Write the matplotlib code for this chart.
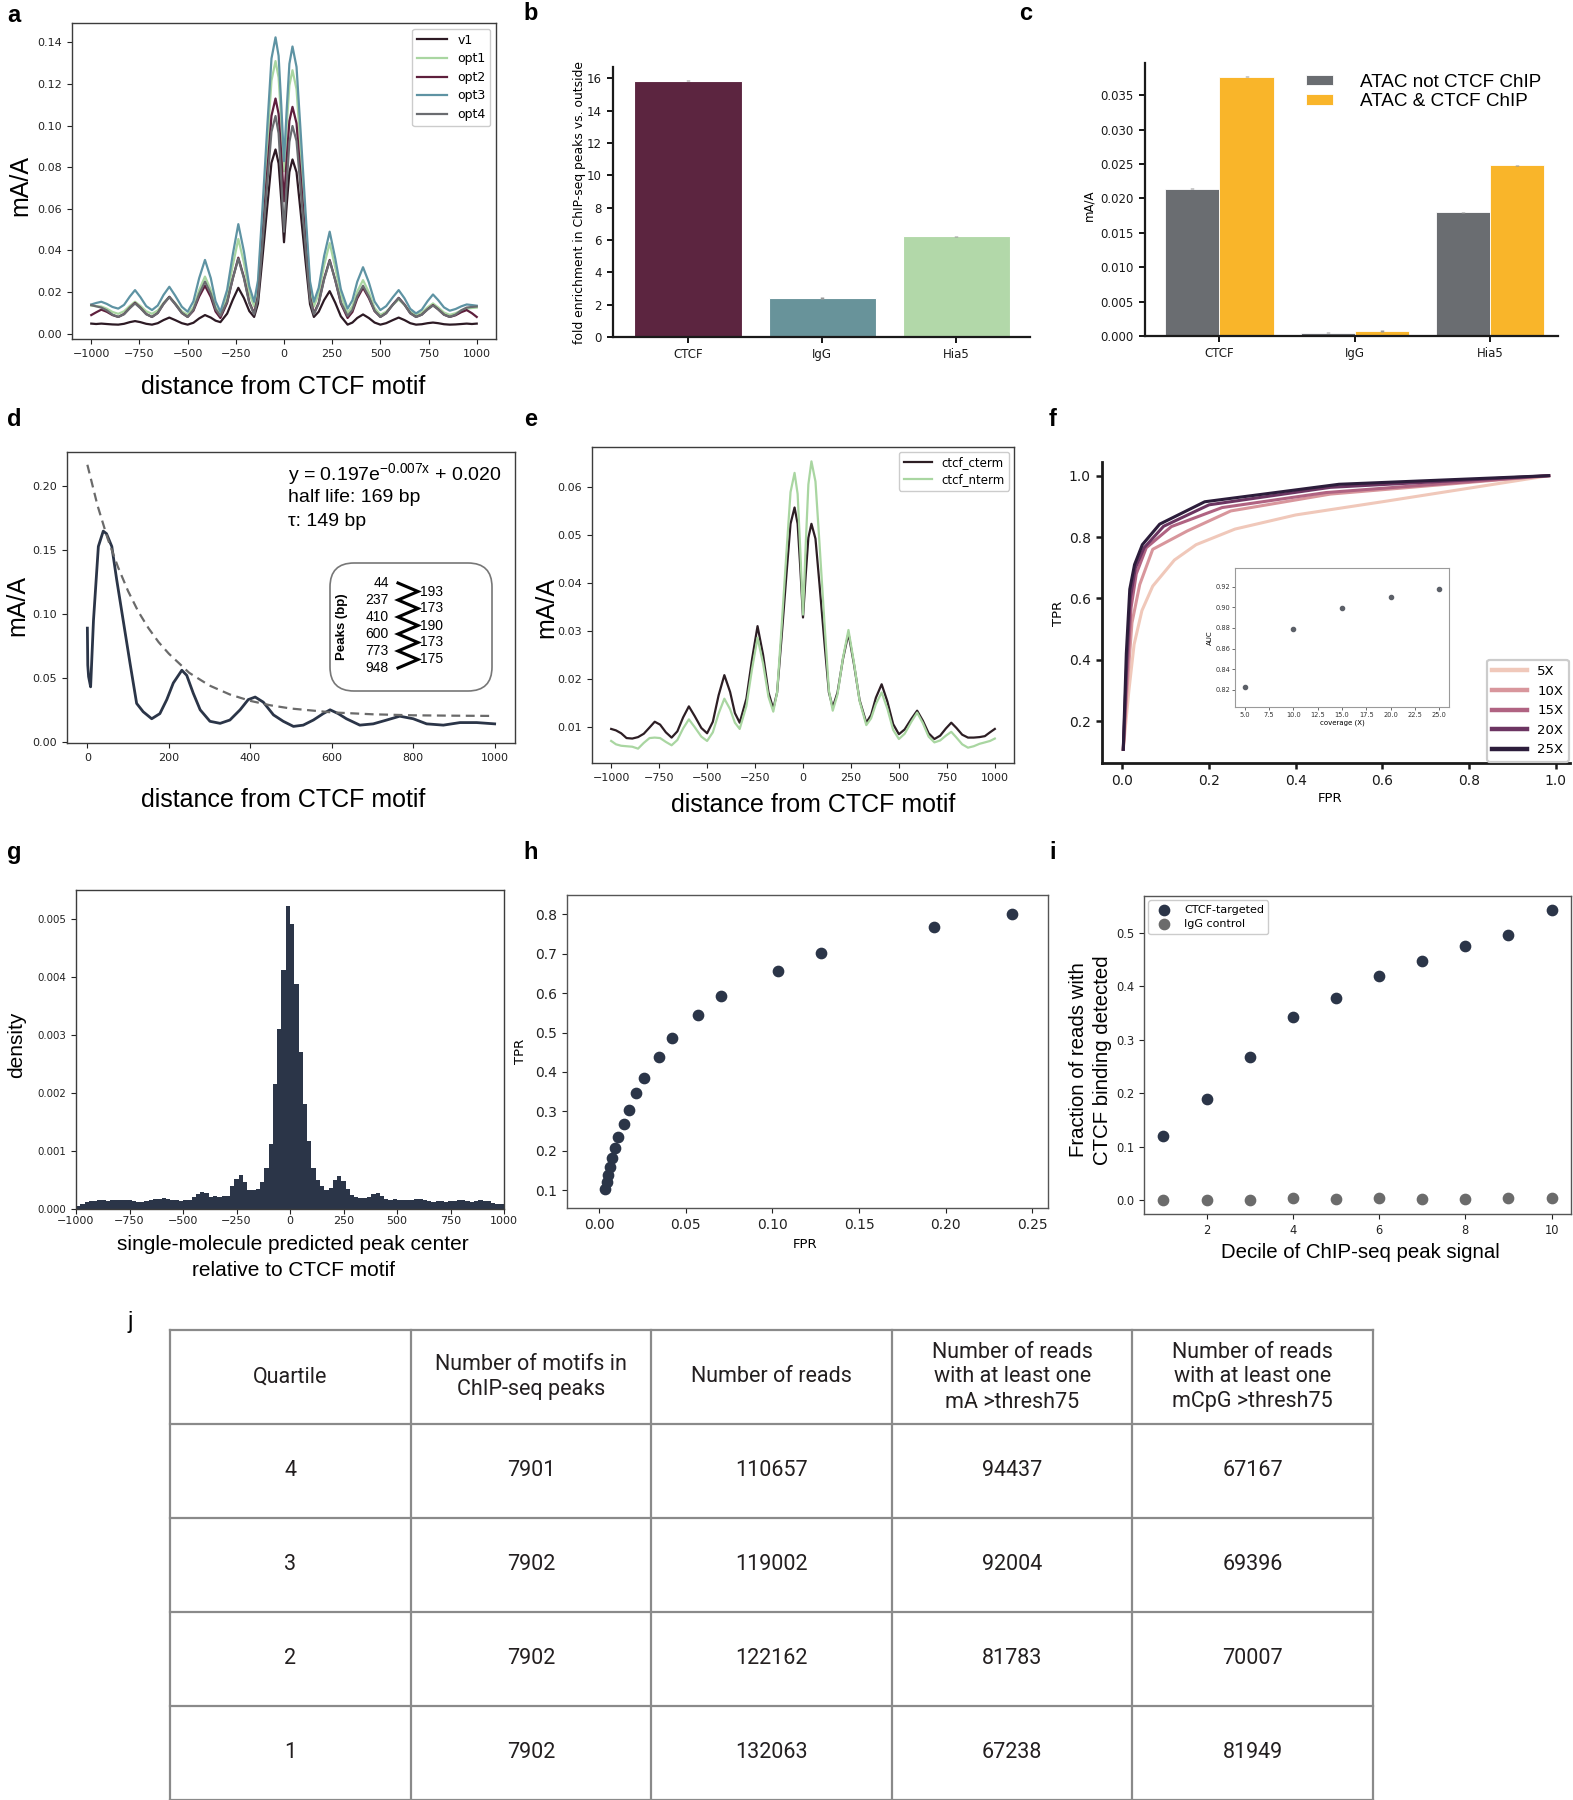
import numpy as np
import matplotlib
matplotlib.use('Agg')
import matplotlib.pyplot as plt
from matplotlib.patches import FancyBboxPatch

# ---------------- data ----------------
# panel a / e : shared distance grid (bp)
dist_grid = [-1000, -975, -948, -920, -890, -860, -830, -800, -773, -745, -715, -685, -655, -625, -595,
             -565, -530, -500, -470, -440, -410, -380, -355, -330, -295, -266, -237, -208, -180, -155,
             -135, -112, -86, -65, -44, -28, -14, 0,
             14, 28, 44, 65, 86, 112, 135, 155, 180, 208, 237, 266, 295, 330, 355, 380, 410, 440, 470,
             500, 530, 565, 595, 625, 655, 685, 715, 745, 773, 800, 830, 860, 890, 920, 948, 975, 1000]

a_v1 = [0.0048, 0.0046, 0.0048, 0.0046, 0.0044, 0.0043, 0.0047, 0.0055, 0.006, 0.0055, 0.0047, 0.0043,
        0.005, 0.0065, 0.0077, 0.0065, 0.005, 0.0043, 0.0052, 0.0073, 0.0089, 0.0077, 0.0062, 0.0055,
        0.0096, 0.0162, 0.022, 0.0171, 0.0108, 0.008, 0.0144, 0.0362, 0.0619, 0.0821, 0.0885, 0.0818,
        0.0640,
        0.0439,
        0.0618, 0.0777, 0.0837, 0.0776, 0.0587, 0.0345, 0.0141, 0.008, 0.0105, 0.0161, 0.0204, 0.0148,
        0.0083, 0.0043, 0.0053, 0.0075, 0.0092, 0.0075, 0.0053, 0.0043, 0.005, 0.0065, 0.0077, 0.0065,
        0.005, 0.0043, 0.0045, 0.005, 0.0053, 0.005, 0.0045, 0.0043, 0.0044, 0.0046, 0.0048, 0.0046,
        0.0048]
a_opt1 = [0.0134, 0.0132, 0.013, 0.0120, 0.0104, 0.0095, 0.0107, 0.0133, 0.0153, 0.0133, 0.0107, 0.0095,
          0.0111, 0.0148, 0.0177, 0.0147, 0.0107, 0.009, 0.0127, 0.0210, 0.0274, 0.0210, 0.0127, 0.009,
          0.0181, 0.0327, 0.0455, 0.0341, 0.0195, 0.013, 0.0224, 0.0543, 0.0921, 0.1216, 0.131, 0.1231,
          0.1019,
          0.078,
          0.0999, 0.1193, 0.1266, 0.1175, 0.0891, 0.0528, 0.0221, 0.013, 0.0191, 0.0328, 0.0435, 0.0318,
          0.0184, 0.010, 0.0131, 0.0202, 0.0257, 0.0199, 0.0123, 0.009, 0.0105, 0.0138, 0.0164, 0.0138,
          0.0105, 0.009, 0.0101, 0.0126, 0.0145, 0.0126, 0.0101, 0.009, 0.0098, 0.0111, 0.012, 0.0123,
          0.0125]
a_opt2 = [0.0089, 0.0102, 0.0115, 0.0105, 0.0089, 0.008, 0.0094, 0.0124, 0.0148, 0.0124, 0.0094, 0.008,
          0.0099, 0.0143, 0.0177, 0.0143, 0.0099, 0.008, 0.011, 0.0178, 0.023, 0.0176, 0.0106, 0.0075,
          0.0148, 0.0264, 0.0365, 0.0271, 0.0151, 0.0097, 0.0180, 0.0459, 0.0789, 0.1047, 0.113, 0.1056,
          0.0858,
          0.0636,
          0.0840, 0.1022, 0.109, 0.1011, 0.0762, 0.0445, 0.0176, 0.0097, 0.0148, 0.0264, 0.0354, 0.0256,
          0.0145, 0.0075, 0.0104, 0.0169, 0.022, 0.0171, 0.0108, 0.008, 0.0098, 0.0140, 0.0172, 0.0140,
          0.0098, 0.008, 0.0091, 0.0117, 0.0137, 0.0117, 0.0091, 0.008, 0.0088, 0.0103, 0.0113, 0.0098,
          0.008]
a_opt3 = [0.014, 0.0147, 0.0153, 0.0143, 0.0128, 0.012, 0.0138, 0.0178, 0.0209, 0.0175, 0.0132, 0.0113,
          0.0135, 0.0186, 0.0225, 0.0183, 0.0129, 0.0105, 0.0155, 0.0267, 0.0354, 0.0267, 0.0155, 0.0105,
          0.0210, 0.0379, 0.0526, 0.0395, 0.0228, 0.0153, 0.0255, 0.0598, 0.1005, 0.1322, 0.1424, 0.1335,
          0.1097,
          0.0829,
          0.1077, 0.1297, 0.138, 0.1282, 0.0975, 0.0582, 0.0251, 0.0153, 0.0220, 0.0372, 0.049, 0.0361,
          0.0213, 0.012, 0.0160, 0.0249, 0.0319, 0.0247, 0.0154, 0.0113, 0.0132, 0.0175, 0.0209, 0.0170,
          0.0119, 0.0097, 0.0115, 0.0156, 0.0188, 0.0161, 0.0126, 0.011, 0.0118, 0.0131, 0.014, 0.0137,
          0.0134]
a_opt4 = [0.0137, 0.0131, 0.0125, 0.0112, 0.0091, 0.008, 0.0093, 0.0122, 0.0145, 0.0122, 0.0093, 0.008,
          0.0099, 0.0142, 0.0175, 0.0142, 0.0099, 0.008, 0.0114, 0.0191, 0.025, 0.0192, 0.0118, 0.0085,
          0.0154, 0.0264, 0.036, 0.0266, 0.0146, 0.0092, 0.0168, 0.0426, 0.0731, 0.0970, 0.1046, 0.0963,
          0.0740,
          0.049,
          0.0719, 0.0922, 0.0998, 0.0926, 0.0699, 0.0409, 0.0164, 0.0092, 0.0144, 0.0260, 0.035, 0.0257,
          0.0151, 0.0085, 0.0114, 0.0179, 0.023, 0.0178, 0.011, 0.008, 0.0098, 0.0139, 0.017, 0.0139,
          0.0098, 0.008, 0.0091, 0.0116, 0.0135, 0.0116, 0.0091, 0.008, 0.0091, 0.0112, 0.0125, 0.0128,
          0.013]
a_names = ['v1', 'opt1', 'opt2', 'opt3', 'opt4']

e_cterm = [0.0097, 0.0094, 0.0088, 0.0078, 0.0077, 0.0080, 0.0087, 0.0100, 0.0112, 0.0106, 0.0090,
           0.0079, 0.0092, 0.0121, 0.0144, 0.0124, 0.0099, 0.0088, 0.0112, 0.0167, 0.0209, 0.0174,
           0.0130, 0.011, 0.0160, 0.0241, 0.0311, 0.0251, 0.0173, 0.0139, 0.0173, 0.0286, 0.0420,
           0.0524, 0.0558, 0.0524, 0.0432,
           0.0329,
           0.0417, 0.0495, 0.0524, 0.0493, 0.0398, 0.0276, 0.0173, 0.0142, 0.0173, 0.0242, 0.0296,
           0.0231, 0.0157, 0.011, 0.0126, 0.0162, 0.019, 0.0154, 0.0107, 0.0086, 0.0096, 0.0118, 0.0135,
           0.0114, 0.0088, 0.0076, 0.0083, 0.0098, 0.011, 0.0099, 0.0085, 0.0079, 0.0079, 0.0080,
           0.0082, 0.009, 0.0097]
e_nterm = [0.0072, 0.0065, 0.0062, 0.0061, 0.0060, 0.0056, 0.0068, 0.0078, 0.0079, 0.0078, 0.0070,
           0.0063, 0.0074, 0.0098, 0.0117, 0.0101, 0.0081, 0.0072, 0.0090, 0.0129, 0.016, 0.0138,
           0.0110, 0.0097, 0.0145, 0.0221, 0.0287, 0.0233, 0.0164, 0.0133, 0.0173, 0.0307, 0.0466,
           0.0590, 0.063, 0.0586, 0.0468,
           0.0335,
           0.0479, 0.0606, 0.0654, 0.0612, 0.0483, 0.0317, 0.0177, 0.0135, 0.0169, 0.0244, 0.0303,
           0.0234, 0.0155, 0.0105, 0.0119, 0.0149, 0.0173, 0.0139, 0.0095, 0.0076, 0.0087, 0.0112,
           0.0131, 0.0109, 0.0081, 0.0069, 0.0073, 0.0083, 0.0091, 0.0079, 0.0065, 0.0058, 0.0061,
           0.0066, 0.0069, 0.0072, 0.0077]
e_names = ['ctcf_cterm', 'ctcf_nterm']

# panel b
b_categories = ['CTCF', 'IgG', 'Hia5']
b_values = [15.85, 2.40, 6.22]
b_err = [0.05, 0.06, 0.05]

# panel c
c_categories = ['CTCF', 'IgG', 'Hia5']
c_not_chip = [0.0214, 0.0005, 0.0180]
c_chip = [0.0377, 0.0007, 0.0248]
c_err = [0.0001, 0.0001, 0.0001]
c_names = ['ATAC not CTCF ChIP', 'ATAC & CTCF ChIP']

# panel d
d_dist = [0, 1, 3, 8, 15, 27, 39, 47, 60, 72, 88, 105, 121, 137, 158, 178, 195, 211, 232, 244,
          260, 277, 301, 326, 350, 375, 395, 412, 432, 457, 481, 506, 530, 555, 579, 596, 616, 636,
          669, 702, 735, 767, 800, 833, 874, 915, 956, 1000]
d_signal = [0.089, 0.060, 0.051, 0.043, 0.095, 0.153, 0.165, 0.163, 0.153, 0.127, 0.095, 0.061,
            0.030, 0.0235, 0.018, 0.022, 0.033, 0.046, 0.056, 0.052, 0.038, 0.025, 0.016, 0.0144,
            0.017, 0.025, 0.033, 0.035, 0.031, 0.021, 0.016, 0.012, 0.013, 0.017, 0.022, 0.025,
            0.022, 0.018, 0.013, 0.014, 0.017, 0.020, 0.018, 0.014, 0.013, 0.015, 0.015, 0.014]
d_fit_x = [0, 25, 50, 75, 100, 125, 150, 175, 200, 250, 300, 350, 400, 450, 500, 600, 700, 800, 900, 1000]
d_fit_y = [0.217, 0.185, 0.159, 0.137, 0.118, 0.102, 0.089, 0.078, 0.069, 0.054, 0.044, 0.037,
           0.032, 0.0285, 0.026, 0.023, 0.0215, 0.0207, 0.0204, 0.0202]
d_peaks = [44, 237, 410, 600, 773, 948]
d_spacing = [193, 173, 190, 173, 175]

# panel f
f_labels = ['5X', '10X', '15X', '20X', '25X']
f_fpr = [[0.002, 0.015, 0.027, 0.045, 0.07, 0.12, 0.17, 0.26, 0.40, 0.60, 0.984],
         [0.002, 0.012, 0.022, 0.040, 0.07, 0.15, 0.25, 0.48, 0.984],
         [0.002, 0.011, 0.020, 0.032, 0.055, 0.113, 0.23, 0.47, 0.984],
         [0.002, 0.010, 0.018, 0.030, 0.050, 0.095, 0.20, 0.48, 0.984],
         [0.002, 0.009, 0.017, 0.028, 0.046, 0.086, 0.19, 0.50, 0.984]]
f_tpr = [[0.108, 0.30, 0.45, 0.56, 0.64, 0.725, 0.775, 0.826, 0.872, 0.915, 1.0],
         [0.108, 0.33, 0.52, 0.645, 0.76, 0.82, 0.885, 0.94, 1.0],
         [0.108, 0.36, 0.57, 0.68, 0.765, 0.834, 0.896, 0.945, 1.0],
         [0.108, 0.39, 0.60, 0.70, 0.765, 0.835, 0.905, 0.962, 1.0],
         [0.108, 0.42, 0.63, 0.71, 0.775, 0.842, 0.915, 0.972, 1.0]]
f_coverage = [5, 10, 15, 20, 25]
f_auc = [0.823, 0.879, 0.899, 0.910, 0.918]

# panel g (histogram, 20 bp bins from -1000 to 1000)
g_bin_start, g_bin_width = -1000, 20
g_density = [0.00005, 0.00008, 0.00012, 0.00013, 0.00014, 0.00015, 0.00016, 0.00014, 0.00015, 0.00016,
             0.00015, 0.00016, 0.00015, 0.00014, 0.00012, 0.00012, 0.00013, 0.00015, 0.00017, 0.00018,
             0.00019, 0.00018, 0.00016, 0.00015, 0.00014, 0.00015, 0.00016, 0.00021, 0.00026, 0.00030,
             0.00028, 0.00021, 0.00023, 0.00021, 0.00022, 0.00023, 0.00039, 0.00052, 0.00058, 0.00046,
             0.00032, 0.00032, 0.00034, 0.00046, 0.00071, 0.00112, 0.00215, 0.00310, 0.00412, 0.00523,
             0.00491, 0.00388, 0.00270, 0.00181, 0.00117, 0.00071, 0.00050, 0.00040, 0.00033, 0.00037,
             0.00050, 0.00057, 0.00049, 0.00034, 0.00025, 0.00020, 0.00019, 0.00019, 0.00020, 0.00026,
             0.00027, 0.00022, 0.00018, 0.00015, 0.00017, 0.00015, 0.00015, 0.00016, 0.00016, 0.00018,
             0.00018, 0.00016, 0.00014, 0.00012, 0.00013, 0.00013, 0.00012, 0.00014, 0.00014, 0.00015,
             0.00015, 0.00014, 0.00012, 0.00013, 0.00015, 0.00014, 0.00013, 0.00011, 0.00009, 0.00008]

# panel h
h_fpr = [0.2383, 0.1931, 0.1279, 0.1032, 0.0701, 0.0570, 0.0419, 0.0345, 0.0259, 0.0212,
         0.0171, 0.0142, 0.0111, 0.0093, 0.0072, 0.0062, 0.0051, 0.0043, 0.0033]
h_tpr = [0.800, 0.768, 0.703, 0.656, 0.594, 0.544, 0.485, 0.438, 0.386, 0.346,
         0.303, 0.269, 0.234, 0.207, 0.181, 0.160, 0.139, 0.121, 0.104]

# panel i
i_decile = [1, 2, 3, 4, 5, 6, 7, 8, 9, 10]
i_ctcf = [0.119, 0.190, 0.268, 0.343, 0.378, 0.419, 0.447, 0.476, 0.496, 0.542]
i_igg = [0.001, 0.001, 0.001, 0.003, 0.002, 0.004, 0.002, 0.002, 0.004, 0.004]
i_names = ['CTCF-targeted', 'IgG control']

# panel j (table)
j_header = ['Quartile', 'Number of motifs in\nChIP-seq peaks', 'Number of reads',
            'Number of reads\nwith at least one\nmA >thresh75',
            'Number of reads\nwith at least one\nmCpG >thresh75']
j_quartile = ['4', '3', '2', '1']
j_motifs = ['7901', '7902', '7902', '7902']
j_reads = ['110657', '119002', '122162', '132063']
j_mA = ['94437', '92004', '81783', '67238']
j_mCpG = ['67167', '69396', '70007', '81949']

# ---------------- layout helpers ----------------
W, H, DPI = 1573, 1800, 100
plt.rcParams['font.family'] = ['DejaVu Sans']
LAB = 'Liberation Sans'
NAVY = '#2b3548'

fig = plt.figure(figsize=(W / DPI, H / DPI), dpi=DPI)


def rect(l, t, r, b):
    return [l / W, 1 - b / H, (r - l) / W, (b - t) / H]


def ftext(x, y, s, **kw):
    kw.setdefault('ha', 'center')
    kw.setdefault('va', 'center')
    return fig.text(x / W, 1 - y / H, s, **kw)


def boxed(ax, size=8, color='#3c3c3c'):
    for sp in ax.spines.values():
        sp.set_color(color)
        sp.set_linewidth(1.0)
    ax.tick_params(labelsize=size, length=3.5, width=0.8, colors='#222222')


def despined(ax, size=8.5, lw=1.6):
    ax.spines['top'].set_visible(False)
    ax.spines['right'].set_visible(False)
    for s in ('left', 'bottom'):
        ax.spines[s].set_linewidth(lw)
        ax.spines[s].set_color('#1a1a1a')
    ax.tick_params(labelsize=size, length=4.5, width=lw * 0.9, colors='#1a1a1a')


for letter, x, y in [('a', 14, 15), ('b', 531, 13), ('c', 1026, 14), ('d', 14, 419), ('e', 531, 419),
                     ('f', 1053, 419), ('g', 14, 852), ('h', 531, 852), ('i', 1053, 852)]:
    ftext(x, y, letter, fontsize=17, fontweight='bold', family=LAB)
ftext(130, 1322, 'j', fontsize=17, family=LAB)

# ---------------- panel a ----------------
ax = fig.add_axes(rect(72, 23, 496, 339))
a_colors = ['#2d1a24', '#a9d6a1', '#5e1f3c', '#5e93a3', '#6a6c70']
for name, ys, c in zip(a_names, [a_v1, a_opt1, a_opt2, a_opt3, a_opt4], a_colors):
    ax.plot(dist_grid, ys, color=c, lw=1.6, label=name)
ax.set_xticks(range(-1000, 1001, 250))
ax.set_yticks(np.arange(0, 0.141, 0.02))
boxed(ax)
ax.legend(loc='upper right', fontsize=9, framealpha=1, edgecolor='#cccccc', handlelength=2.4,
          labelspacing=0.45, borderaxespad=0.45)
ftext(283, 387, 'distance from CTCF motif', fontsize=18, family=LAB)
ftext(20, 185, 'mA/A', fontsize=18, family=LAB, rotation=90)

# ---------------- panel b ----------------
ax = fig.add_axes(rect(613, 67, 1030, 337))
b_colors = ['#5c2540', '#68939a', '#b2d8a9']
xb = np.arange(len(b_categories))
ax.bar(xb, b_values, width=0.8, color=b_colors, edgecolor='white', linewidth=0.8)
ax.errorbar(xb, b_values, yerr=b_err, fmt='none', ecolor='#9a9a9a', elinewidth=2.5)
ax.set_xticks(xb)
ax.set_xticklabels(b_categories)
ax.set_xlim(-0.56, 2.55)
ax.set_yticks(range(0, 17, 2))
despined(ax)
ftext(580, 203, 'fold enrichment in ChIP-seq peaks vs. outside', fontsize=8.9, rotation=90)

# ---------------- panel c ----------------
ax = fig.add_axes(rect(1145, 63, 1558, 336))
xc = np.arange(len(c_categories))
ax.bar(xc - 0.2, c_not_chip, width=0.4, color='#6a6d71', edgecolor='white', linewidth=0.6,
       label=c_names[0])
ax.bar(xc + 0.2, c_chip, width=0.4, color='#f9b52a', edgecolor='white', linewidth=0.6,
       label=c_names[1])
ax.errorbar(xc - 0.2, c_not_chip, yerr=c_err, fmt='none', ecolor='#9a9a9a', elinewidth=2.5)
ax.errorbar(xc + 0.2, c_chip, yerr=c_err, fmt='none', ecolor='#9a9a9a', elinewidth=2.5)
ax.set_xticks(xc)
ax.set_xticklabels(c_categories)
ax.set_xlim(-0.55, 2.5)
ax.set_yticks(np.arange(0, 0.0351, 0.005))
despined(ax)
ax.legend(loc='upper left', bbox_to_anchor=(1302 / W, 1 - 70 / H), bbox_transform=fig.transFigure,
          frameon=False, prop={'family': LAB, 'size': 13.6}, handlelength=1.45, handleheight=0.5,
          handletextpad=1.4, borderaxespad=0, borderpad=0.2, labelspacing=0.12)
ftext(1089, 205, 'mA/A', fontsize=8.5, rotation=90)

# ---------------- panel d ----------------
ax = fig.add_axes(rect(67, 452, 515, 743))
ax.plot(d_dist, d_signal, color=NAVY, lw=2.0)
ax.plot(d_fit_x, d_fit_y, ls='--', color='#6a6a6a', lw=1.6, dashes=(4, 2.5))
ax.set_xlim(-50, 1050)
ax.set_ylim(-0.001, 0.227)
ax.set_xticks(range(0, 1001, 200))
ax.set_yticks(np.arange(0, 0.201, 0.05))
boxed(ax)
ftext(288, 475, r'y = 0.197e$^{\mathregular{-0.007x}}$ + 0.020', ha='left', fontsize=14, family=LAB)
ftext(288, 498, 'half life: 169 bp', ha='left', fontsize=14, family=LAB)
ftext(288, 522, 'τ: 149 bp', ha='left', fontsize=14, family=LAB)
ftext(283, 800, 'distance from CTCF motif', fontsize=18, family=LAB)
ftext(17, 605, 'mA/A', fontsize=18, family=LAB, rotation=90)

# inset box with peak positions
bx0, by0, bx1, by1 = 329, 562, 493, 692
bax = fig.add_axes(rect(bx0, by0, bx1, by1))
bw, bh = bx1 - bx0, by1 - by0
bax.set_xlim(0, bw)
bax.set_ylim(bh, 0)
bax.axis('off')
bax.add_patch(FancyBboxPatch((1, 1), bw - 2, bh - 2, boxstyle='round,pad=0,rounding_size=24',
                             facecolor='white', edgecolor='#777777', lw=1.2))
bax.text(13, 65, 'Peaks (bp)', rotation=90, ha='center', va='center', fontsize=9.5,
         fontweight='bold', family=LAB)
row0, drow = 21, 17
zig_x, zig_y = [], []
for k, p in enumerate(d_peaks):
    bax.text(60, row0 + drow * k, str(p), ha='right', va='center', fontsize=10, family=LAB)
    zig_x.append(69)
    zig_y.append(row0 + drow * k)
    if k < len(d_spacing):
        bax.text(91, row0 + drow * (k + 0.5), str(d_spacing[k]), ha='left', va='center',
                 fontsize=10, family=LAB)
        zig_x.append(89)
        zig_y.append(row0 + drow * (k + 0.5))
bax.plot(zig_x, zig_y, color='black', lw=2.2, solid_joinstyle='miter')

# ---------------- panel e ----------------
ax = fig.add_axes(rect(592, 447, 1014, 763))
for name, ys, c in zip(e_names, [e_cterm, e_nterm], ['#2d1e24', '#a9d6a1']):
    ax.plot(dist_grid, ys, color=c, lw=1.6, label=name)
ax.set_xticks(range(-1000, 1001, 250))
ax.set_yticks(np.arange(0.01, 0.061, 0.01))
boxed(ax)
ax.legend(loc='upper right', fontsize=8.5, framealpha=1, edgecolor='#cccccc', handlelength=2.4,
          labelspacing=0.3, borderaxespad=0.4)
ftext(813, 805, 'distance from CTCF motif', fontsize=18, family=LAB)
ftext(546, 607, 'mA/A', fontsize=18, family=LAB, rotation=90)

# ---------------- panel f ----------------
ax = fig.add_axes(rect(1102, 462, 1570, 763))
f_colors = ['#f0c8ba', '#d8969c', '#b06382', '#6c3562', '#2c1d3b']
for lab, xs, ys, c in zip(f_labels, f_fpr, f_tpr, f_colors):
    ax.plot(xs, ys, color=c, lw=2.2, label=lab)
ax.set_xticks(np.arange(0, 1.01, 0.2))
ax.set_yticks(np.arange(0.2, 1.01, 0.2))
despined(ax, size=10, lw=2.0)
leg = ax.legend(loc='lower right', fontsize=9.5, framealpha=1, edgecolor='#cccccc',
                handlelength=2.6, labelspacing=0.5, borderaxespad=0.1)
for ln in leg.get_lines():
    ln.set_linewidth(3.2)
leg.get_frame().set_linewidth(1.6)
ftext(1330, 798, 'FPR', fontsize=9.5)
ftext(1059, 613, 'TPR', fontsize=9.5, rotation=90)

iax = fig.add_axes(rect(1235, 568, 1449, 707))
iax.scatter(f_coverage, f_auc, s=9, color='#5c6068')
iax.set_xlim(4, 26)
iax.set_ylim(0.8035, 0.938)
iax.set_xticks(np.arange(5, 25.1, 2.5))
iax.set_yticks(np.arange(0.82, 0.921, 0.02))
for sp in iax.spines.values():
    sp.set_color('#9a9a9a')
    sp.set_linewidth(0.8)
iax.tick_params(labelsize=4.8, length=2, width=0.5, pad=1.5, colors='#333333')
iax.set_xlabel('coverage (X)', fontsize=5, labelpad=1)
iax.set_ylabel('AUC', fontsize=5, labelpad=2)

# ---------------- panel g ----------------
ax = fig.add_axes(rect(76, 890, 504, 1209))
g_edges = g_bin_start + g_bin_width * np.arange(len(g_density) + 1)
ax.stairs(g_density, g_edges, fill=True, color=NAVY)
ax.set_xlim(-1000, 1000)
ax.set_ylim(0, 0.00550)
ax.set_xticks(range(-1000, 1001, 250))
ax.set_yticks(np.arange(0, 0.0051, 0.001))
boxed(ax)
ax.tick_params(axis='y', labelsize=7.4)
ax.tick_params(axis='x', pad=1.5)
ftext(293, 1245, 'single-molecule predicted peak center', fontsize=15, family=LAB)
ftext(293, 1270, 'relative to CTCF motif', fontsize=15, family=LAB)
ftext(17, 1045, 'density', fontsize=15, family=LAB, rotation=90)

# ---------------- panel h ----------------
ax = fig.add_axes(rect(567, 895, 1048, 1208))
ax.scatter(h_fpr, h_tpr, s=55, color=NAVY, zorder=3)
ax.set_xlim(-0.0185, 0.259)
ax.set_ylim(0.055, 0.849)
ax.set_xticks(np.arange(0, 0.251, 0.05))
ax.set_yticks(np.arange(0.1, 0.81, 0.1))
boxed(ax, size=10, color='#555555')
ftext(805, 1245, 'FPR', fontsize=9.5)
ftext(520, 1051, 'TPR', fontsize=9.5, rotation=90)

# ---------------- panel i ----------------
ax = fig.add_axes(rect(1144, 896, 1571, 1214))
ax.scatter(i_decile, i_ctcf, s=55, color=NAVY, label=i_names[0], zorder=3)
ax.scatter(i_decile, i_igg, s=55, color='#6b6b6b', label=i_names[1], zorder=3)
ax.set_xticks([2, 4, 6, 8, 10])
ax.set_yticks(np.arange(0, 0.51, 0.1))
boxed(ax, size=8.3, color='#555555')
ax.legend(loc='upper left', fontsize=8, framealpha=1, edgecolor='#cccccc', borderaxespad=0.4,
          labelspacing=0.4)
ftext(1360, 1253, 'Decile of ChIP-seq peak signal', fontsize=14.7, family=LAB)
ftext(1078, 1060, 'Fraction of reads with', fontsize=14.7, family=LAB, rotation=90)
ftext(1102, 1060, 'CTCF binding detected', fontsize=14.7, family=LAB, rotation=90)

# ---------------- panel j (table) ----------------
tax = fig.add_axes(rect(170, 1330, 1373, 1800))
ncol, nrow = len(j_header), len(j_quartile) + 1
tax.set_xlim(0, ncol)
tax.set_ylim(nrow, 0)
tax.axis('off')
for k in range(ncol + 1):
    tax.plot([k, k], [0, nrow], color='#8a8a8a', lw=1.6, clip_on=False)
for k in range(nrow + 1):
    tax.plot([0, ncol], [k, k], color='#8a8a8a', lw=1.6, clip_on=False)
TFONT = 'Roboto'
for cidx, h in enumerate(j_header):
    tax.text(cidx + 0.5, 0.5, h, ha='center', va='center', fontsize=15.5, family=TFONT,
             color='#231f20', linespacing=1.25)
for r, row in enumerate(zip(j_quartile, j_motifs, j_reads, j_mA, j_mCpG)):
    for cidx, val in enumerate(row):
        tax.text(cidx + 0.5, r + 1.5, val, ha='center', va='center', fontsize=15.5, family=TFONT,
                 color='#231f20')

fig.savefig('out.png', dpi=DPI)
